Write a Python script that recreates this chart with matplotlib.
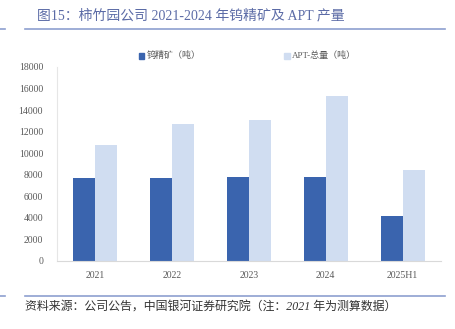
"""
柿竹园公司 2021-2024 年钨精矿及 APT 产量 - bar chart recreation
"""

import numpy as np
import matplotlib
matplotlib.use("Agg")
import matplotlib.pyplot as plt
from matplotlib.lines import Line2D

plt.rcParams["font.family"] = ["Liberation Serif", "Noto Sans CJK SC", "DejaVu Sans"]

years = ["2021", "2022", "2023", "2024", "2025H1"]
concentrate = [7730, 7740, 7750, 7800, 4180]
apt_total = [10740, 12740, 13060, 15310, 8480]
series_names = ["钨精矿（吨）", "APT-总量（吨）"]
yticks = list(range(0, 18001, 2000))

DARK = "#3A64AE"
LIGHT = "#D0DDF1"
TITLE_BLUE = "#5B6BA6"
RULE_BLUE = "#8E9FCF"
GRAY_TXT = "#595959"

fig = plt.figure(figsize=(4.56, 3.29), dpi=100)
W, H = 456, 329

# plot area: x 57..441, y 67..261 (pixels from top)
ax = fig.add_axes([57 / W, 1 - 261 / H, 384 / W, 194 / H])

x = np.arange(len(years))
bw = 0.287
ax.bar(x - bw / 2, concentrate, bw, color=DARK, label=series_names[0])
ax.bar(x + bw / 2, apt_total, bw, color=LIGHT, label=series_names[1])

ax.set_xlim(-0.5, len(years) - 0.5)
ax.set_ylim(0, 18000)
ax.set_yticks(yticks)
ax.set_yticklabels([str(v) for v in yticks], fontsize=7, color=GRAY_TXT)
ax.set_xticks(x)
ax.set_xticklabels(years, fontsize=7, color=GRAY_TXT)
ax.tick_params(length=0, pad=7)
ax.tick_params(axis="y", pad=10)

for side in ["top", "right"]:
    ax.spines[side].set_visible(False)
ax.spines["left"].set_color("#E6E6E6")
ax.spines["bottom"].set_color("#D9D9D9")

# legend drawn by hand to match placement
for color, name, px in zip([DARK, LIGHT], series_names, [139, 284.5]):
    fig.patches.append(plt.Rectangle((px / W, 1 - 58.5 / H), 5.5 / W, 5.5 / H,
                                     transform=fig.transFigure, color=color))
    fig.text((px + 7.5) / W, 1 - 55.5 / H, name, fontsize=6.5, color=GRAY_TXT,
             va="center", ha="left")

# title and rules
fig.text(37 / W, 1 - 16 / H, "图15：柿竹园公司 2021-2024 年钨精矿及 APT 产量",
         fontsize=10, color=TITLE_BLUE, va="center", ha="left")
for yy in [28.5, 296]:
    fig.add_artist(Line2D([25 / W, 445 / W], [1 - yy / H, 1 - yy / H],
                          color=RULE_BLUE, lw=1.2, transform=fig.transFigure))
    fig.add_artist(Line2D([0, 5 / W], [1 - yy / H, 1 - yy / H],
                          color=RULE_BLUE, lw=1.2, transform=fig.transFigure))

fig.text(25 / W, 1 - 307 / H,
         "资料来源：公司公告，中国银河证券研究院（注：2021 年为测算数据）",
         fontsize=8.6, color="#333333", style="italic", va="center", ha="left")

fig.savefig("out.png", dpi=100)
